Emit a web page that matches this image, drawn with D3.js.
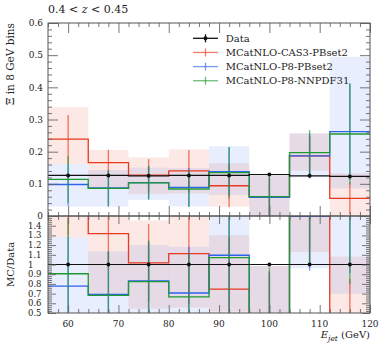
<!DOCTYPE html>
<html><head><meta charset="utf-8">
<script src="https://cdn.jsdelivr.net/npm/d3@7"></script>
<style>
body{margin:0;background:#fff;}
</style></head>
<body><svg id="c" width="383" height="345"></svg>
<script>
// ---- data ----
const binEdges = [56, 64, 72, 80, 88, 96, 104, 112, 120];
const binCenters = [60, 68, 76, 84, 92, 100, 108, 116];
const dataVals = [0.126, 0.126, 0.125, 0.126, 0.126, 0.129, 0.125, 0.123];
const dataErr  = [0.002, 0.002, 0.002, 0.002, 0.002, 0.002, 0.002, 0.002];

const casVals   = [0.239, 0.166, 0.127, 0.140, 0.094, 0.060, 0.187, 0.055];
const casErr    = [0.075, 0.040, 0.050, 0.065, 0.067, 0.060, 0.060, 0.050];
const casBandLo = [0.161, 0.086, 0.068, 0.070, 0.029, -0.02, 0.141, -0.02];
const casBandHi = [0.338, 0.205, 0.182, 0.207, 0.164, 0.127, 0.257, 0.133];

const pbVals    = [0.098, 0.087, 0.104, 0.089, 0.138, 0.058, 0.187, 0.262];
const pbErr     = [0.065, 0.056, 0.050, 0.060, 0.075, 0.060, 0.070, 0.150];
const pbBandLo  = [0.029, 0.029, 0.050, 0.030, 0.065, -0.02, 0.120, 0.086];
const pbBandHi  = [0.161, 0.143, 0.150, 0.149, 0.217, 0.127, 0.257, 0.495];

const nnVals    = [0.114, 0.086, 0.103, 0.084, 0.135, 0.060, 0.197, 0.255];
const nnErr     = [0.072, 0.057, 0.053, 0.056, 0.080, 0.065, 0.070, 0.157];

const yTopTicks = [0, 0.1, 0.2, 0.3, 0.4, 0.5, 0.6];
const yTopLabels = ["0", "0.1", "0.2", "0.3", "0.4", "0.5", "0.6"];
const yRatioTicks = [0.5, 0.6, 0.7, 0.8, 0.9, 1.0, 1.1, 1.2, 1.3, 1.4];
const yRatioLabels = ["0.5", "0.6", "0.7", "0.8", "0.9", "1", "1.1", "1.2", "1.3", "1.4"];
const xTicks = [60, 70, 80, 90, 100, 110, 120];
const xLabels = ["60", "70", "80", "90", "100", "110", "120"];
const legendNames = ["Data", "MCatNLO-CAS3-PBset2", "MCatNLO-P8-PBset2", "MCatNLO-P8-NNPDF31"];

// ---- styles ----
const RED = "#e8391c", BLUE = "#2f62ee", GREEN = "#1f9a30";
const FS = 10;
const TFS = 9;
const FONT = "'DejaVu Serif', serif";

const svg = d3.select("#c");
const L = 48, R = 370, T1 = 23, B1 = 216, T2 = 216, B2 = 313;
const x = d3.scaleLinear().domain([56, 120]).range([L, R]);
const yTop = d3.scaleLinear().domain([0, 0.6]).range([B1, T1]);
const yRat = d3.scaleLinear().domain([0.5, 1.5]).range([B2, T2]);

const defs = svg.append("defs");
defs.append("clipPath").attr("id", "clipTop").append("rect").attr("x", L).attr("y", T1).attr("width", R - L).attr("height", B1 - T1);
defs.append("clipPath").attr("id", "clipRat").append("rect").attr("x", L).attr("y", T2).attr("width", R - L).attr("height", B2 - T2);

function stepPoints(vals) {
  const pts = [];
  vals.forEach((v, i) => { pts.push([binEdges[i], v]); pts.push([binEdges[i + 1], v]); });
  return pts;
}

function drawPanel(g, y, series, dataV, dataE) {
  series.forEach(s => {
    if (!s.bandLo) return;
    s.bandLo.forEach((lo, i) => {
      const hi = s.bandHi[i];
      g.append("rect")
        .attr("x", x(binEdges[i])).attr("width", x(binEdges[i + 1]) - x(binEdges[i]))
        .attr("y", y(hi)).attr("height", Math.max(0, y(lo) - y(hi)))
        .attr("fill", s.color).attr("fill-opacity", 0.11);
    });
  });
  series.forEach(s => {
    s.vals.forEach((v, i) => {
      g.append("line").attr("x1", x(binCenters[i])).attr("x2", x(binCenters[i]))
        .attr("y1", y(v - s.err[i])).attr("y2", y(v + s.err[i]))
        .attr("stroke", s.color).attr("stroke-opacity", 0.65).attr("stroke-width", 1.4);
    });
    const line = d3.line().x(d => x(d[0])).y(d => y(d[1]));
    g.append("path").attr("d", line(stepPoints(s.vals)))
      .attr("fill", "none").attr("stroke", s.color).attr("stroke-width", 1.3);
  });
  const line = d3.line().x(d => x(d[0])).y(d => y(d[1]));
  g.append("path").attr("d", line(stepPoints(dataV)))
    .attr("fill", "none").attr("stroke", "#111").attr("stroke-width", 1.2);
  dataV.forEach((v, i) => {
    g.append("line").attr("x1", x(binCenters[i])).attr("x2", x(binCenters[i]))
      .attr("y1", y(v - dataE[i])).attr("y2", y(v + dataE[i])).attr("stroke", "#111").attr("stroke-width", 1.2);
    g.append("circle").attr("cx", x(binCenters[i])).attr("cy", y(v)).attr("r", 2).attr("fill", "#111");
  });
}

const gTop = svg.append("g").attr("clip-path", "url(#clipTop)");
drawPanel(gTop, yTop, [
  {vals: casVals, err: casErr, bandLo: casBandLo, bandHi: casBandHi, color: RED},
  {vals: pbVals, err: pbErr, bandLo: pbBandLo, bandHi: pbBandHi, color: BLUE},
  {vals: nnVals, err: nnErr, color: GREEN}
], dataVals, dataErr);

const rat = (arr) => arr.map((v, i) => v / dataVals[i]);
const gRat = svg.append("g").attr("clip-path", "url(#clipRat)");
drawPanel(gRat, yRat, [
  {vals: rat(casVals), err: rat(casErr), bandLo: rat(casBandLo), bandHi: rat(casBandHi), color: RED},
  {vals: rat(pbVals), err: rat(pbErr), bandLo: rat(pbBandLo), bandHi: rat(pbBandHi), color: BLUE},
  {vals: rat(nnVals), err: rat(nnErr), color: GREEN}
], dataVals.map(() => 1), dataErr.map((e, i) => e / dataVals[i]));

const TICKC = "#666";
function styleAxis(sel) {
  sel.select(".domain").remove();
  sel.selectAll("text").remove();
  sel.selectAll("line").attr("stroke", TICKC).attr("stroke-width", 0.9);
}
function addAxes(y, top, bottom, majorLen, minorLen, yMinor, yMajor) {
  const xMinor = d3.range(56, 120.01, 2).filter(v => v % 10 !== 0);
  [[d3.axisBottom, top], [d3.axisTop, bottom]].forEach(([fn, pos]) => {
    svg.append("g").attr("transform", `translate(0,${pos})`).call(fn(x).tickValues(xTicks).tickSize(majorLen)).call(styleAxis);
    svg.append("g").attr("transform", `translate(0,${pos})`).call(fn(x).tickValues(xMinor).tickSize(minorLen)).call(styleAxis);
  });
  [[d3.axisRight, L], [d3.axisLeft, R]].forEach(([fn, pos]) => {
    svg.append("g").attr("transform", `translate(${pos},0)`).call(fn(y).tickValues(yMajor).tickSize(majorLen)).call(styleAxis);
    svg.append("g").attr("transform", `translate(${pos},0)`).call(fn(y).tickValues(yMinor).tickSize(minorLen)).call(styleAxis);
  });
  svg.append("rect").attr("x", L).attr("y", top).attr("width", R - L).attr("height", bottom - top)
    .attr("fill", "none").attr("stroke", "#555").attr("stroke-width", 1);
}
const topMinor = d3.range(0, 0.6001, 0.02).map(v => +v.toFixed(2)).filter(v => Math.abs(v * 10 - Math.round(v * 10)) > 1e-6);
addAxes(yTop, T1, B1, 10, 4, topMinor, yTopTicks);
const ratMinor = d3.range(0.5, 1.5001, 0.02).map(v => +v.toFixed(2)).filter(v => Math.abs(v * 10 - Math.round(v * 10)) > 1e-6);
addAxes(yRat, T2, B2, 8, 4, ratMinor, yRatioTicks.concat([1.5]));

function txt(xp, yp, s, anchor, size) {
  return svg.append("text").attr("x", xp).attr("y", yp).attr("text-anchor", anchor || "start")
    .style("font-family", FONT).attr("font-size", size || FS).attr("fill", "#222").text(s);
}
yTopTicks.forEach((v, i) => txt(43, yTop(v) + 3.3, yTopLabels[i], "end", TFS));
yRatioTicks.forEach((v, i) => txt(28, yRat(v) + 3, yRatioLabels[i], "start", 8.5));
xTicks.forEach((v, i) => txt(x(v), 327, xLabels[i], "middle", TFS));

const xt = txt(R, 338, null, "end");
xt.append("tspan").attr("font-style", "italic").text("E");
xt.append("tspan").attr("font-style", "italic").attr("font-size", FS * 0.75).attr("dy", 2.5).text("jet");
xt.append("tspan").attr("dy", -2.5).text(" (GeV)");

svg.append("text").attr("transform", "translate(13.5,23) rotate(-90)").attr("text-anchor", "end")
  .style("font-family", FONT).attr("font-size", 10.5).attr("fill", "#222").text("Ξ in 8 GeV bins");
svg.append("text").attr("transform", `translate(13.5,${(T2 + B2) / 2}) rotate(-90)`).attr("text-anchor", "middle")
  .style("font-family", FONT).attr("font-size", FS).attr("fill", "#222").text("MC/Data");

const tt = txt(48, 13, null, "start", 11);
tt.append("tspan").text("0.4 < ");
tt.append("tspan").attr("font-style", "italic").text("z");
tt.append("tspan").text(" < 0.45");

const legColors = ["#111", RED, BLUE, GREEN];
legendNames.forEach((name, i) => {
  const cy = 38.3 + i * 14.15;
  svg.append("line").attr("x1", 193).attr("x2", 218).attr("y1", cy).attr("y2", cy)
    .attr("stroke", legColors[i]).attr("stroke-width", 1.3).attr("stroke-opacity", i ? 0.65 : 1);
  svg.append("line").attr("x1", 205.5).attr("x2", 205.5).attr("y1", cy - 4).attr("y2", cy + 4)
    .attr("stroke", legColors[i]).attr("stroke-width", 1.3).attr("stroke-opacity", i ? 0.65 : 1);
  if (i === 0) svg.append("circle").attr("cx", 205.5).attr("cy", cy).attr("r", 2).attr("fill", "#111");
  txt(225.7, cy + 3.5, name, "start");
});
</script></body></html>
